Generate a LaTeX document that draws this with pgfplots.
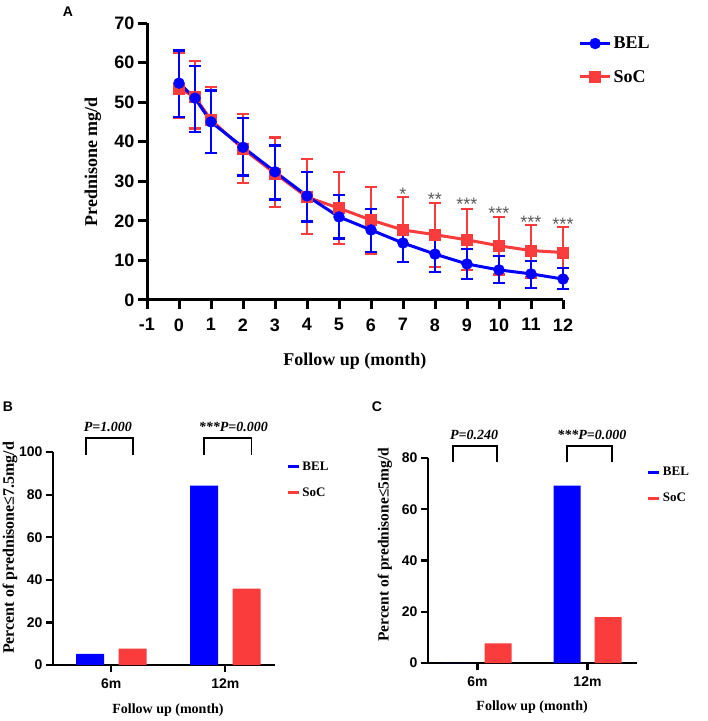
\documentclass[border=0pt]{standalone}
\usepackage{pgfplots}
\usepackage{pgfplotstable}
\pgfplotsset{compat=1.18}
\usepackage{fontspec}
\setmainfont{Liberation Serif}
\setsansfont{Liberation Sans}

\definecolor{belblue}{RGB}{0,0,255}
\definecolor{socred}{RGB}{250,60,60}
\definecolor{stargray}{RGB}{90,90,90}

% Prednisone dose (mg/d) over follow-up: mean, upper and lower error
\pgfplotstableread{
x    y     ep   em
0    54.8  8.3  8.6
0.5  51.0  8.1  8.6
1    45.0  8.0  7.9
2    38.6  7.4  7.2
3    32.4  6.7  7.0
4    26.3  6.1  6.5
5    21.0  5.5  5.4
6    17.7  5.3  5.6
7    14.4  4.5  4.8
8    11.6  4.3  4.5
9    9.1   3.8  3.8
10   7.6   3.5  3.3
11   6.6   3.2  3.6
12   5.3   2.8  2.5
}\belA
\pgfplotstableread{
x    y     ep   em
0    53.5  9.1  7.5
0.5  51.3  9.1  7.9
1    45.5  8.3  8.3
2    38.2  8.8  8.6
3    32.0  9.1  8.5
4    26.0  9.6  9.3
5    23.2  9.1  9.1
6    20.2  8.3  8.6
7    17.7  8.3  8.1
8    16.5  8.0  8.1
9    15.2  7.8  7.6
10   13.7  7.3  7.3
11   12.5  6.4  6.8
12   12.0  6.5  6.5
}\socA

\pgfplotsset{
  prism/.style={
    scale only axis, anchor=south west, clip=false,
    axis x line*=bottom, axis y line*=left,
    tick align=outside,
    /pgf/number format/assume math mode=true,
  },
  barpanel/.style={
    prism,
    xtick={0,1}, xticklabels={6m,12m},
    axis line style={line width=2.2pt,-},
    every tick/.style={black,line width=2.2pt},
    major tick length=7pt,
    tick label style={font=\sffamily\bfseries\fontsize{14}{14}\selectfont},
    xticklabel style={yshift=-3pt},
    xlabel={Follow up (month)},
    legend style={draw=none, fill=none, anchor=north west,
      font=\bfseries\fontsize{13}{13}\selectfont, row sep=12pt,
      /tikz/every even column/.append style={column sep=8pt}},
    legend cell align=left,
    legend image code/.code={\draw[line width=3.5pt,#1] (0pt,0pt) -- (11pt,0pt);},
  },
}

\begin{document}
\begin{tikzpicture}
\useasboundingbox (0pt,0pt) rectangle (708pt,721pt);

% ---------------- Panel A ----------------
\node[font=\sffamily\bfseries\fontsize{14}{14}\selectfont] at (68pt,709pt) {A};
\begin{axis}[prism,
  at={(147pt,421pt)}, width=416pt, height=277pt,
  xmin=-1, xmax=12, ymin=0, ymax=70,
  xtick={-1,0,...,12}, ytick={0,10,...,70},
  axis line style={line width=3pt,-},
  every tick/.style={black,line width=3pt},
  major tick length=9pt,
  tick label style={font=\sffamily\bfseries\fontsize{18}{18}\selectfont},
  xticklabel style={yshift=-6pt},
  xlabel={Follow up (month)}, ylabel={Prednisone mg/d},
  xlabel style={at={(axis description cs:0.5,-0.222)}, anchor=center,
    font=\bfseries\fontsize{18}{18}\selectfont},
  ylabel style={at={(axis description cs:-0.13,0.498)}, anchor=center, rotate=0,
    font=\bfseries\fontsize{18}{18}\selectfont},
  legend style={draw=none, fill=none, at={(1.03,0.965)}, anchor=north west,
    font=\bfseries\fontsize{18}{18}\selectfont, row sep=16pt,
    /tikz/every even column/.append style={column sep=10pt}},
  legend cell align=left,
  legend image code/.code={\draw[mark repeat=2,mark phase=2,#1]
     plot coordinates {(0pt,0pt) (15pt,0pt) (30pt,0pt)};},
]
\addlegendimage{belblue, line width=3pt, mark=*, mark size=5.5pt, mark options={line width=0.4pt}}
\addlegendentry{BEL}
\addlegendimage{socred, line width=3pt, mark=square*, mark size=5.5pt, mark options={line width=0.4pt}}
\addlegendentry{SoC}

\addplot[socred, line width=3pt, mark=square*, mark size=5.5pt,
  mark options={line width=0.4pt},
  error bars/.cd, y dir=both, y explicit,
  error bar style={line width=2.5pt},
  error mark options={rotate=90, mark size=6pt, line width=2.5pt}]
  table[x=x, y=y, y error plus=ep, y error minus=em] {\socA};
\addplot[belblue, line width=3pt, mark=*, mark size=5.5pt,
  mark options={line width=0.4pt},
  error bars/.cd, y dir=both, y explicit,
  error bar style={line width=2.5pt},
  error mark options={rotate=90, mark size=6pt, line width=2.5pt}]
  table[x=x, y=y, y error plus=ep, y error minus=em] {\belA};

% significance stars
\begin{scope}[every node/.style={stargray, font=\sffamily\fontsize{18}{18}\selectfont, inner sep=0pt}]
\node at (axis cs:7,26.8) {*};
\node at (axis cs:8,25.5) {**};
\node at (axis cs:9,24.1) {***};
\node at (axis cs:10,21.9) {***};
\node at (axis cs:11,19.6) {***};
\node at (axis cs:12,19.2) {***};
\end{scope}
\end{axis}

% ---------------- Panel B ----------------
\node[font=\sffamily\bfseries\fontsize{14}{14}\selectfont] at (8pt,314pt) {B};
\begin{axis}[barpanel,
  at={(53pt,56pt)}, width=222pt, height=213pt,
  xmin=-0.511, xmax=1.436, ymin=0, ymax=100,
  ytick={0,20,...,100},
  ylabel={Percent of prednisone≤7.5mg/d},
  xlabel style={at={(axis description cs:0.518,-0.211)}, anchor=center,
    font=\bfseries\fontsize{14}{14}\selectfont},
  ylabel style={at={(axis description cs:-0.194,0.55)}, anchor=center, rotate=0,
    font=\bfseries\fontsize{16}{16}\selectfont},
  legend style={at={(1.035,0.975)}},
]
\addlegendimage{belblue}\addlegendentry{BEL}
\addlegendimage{socred}\addlegendentry{SoC}
\addplot[ybar, bar width=28pt, bar shift=-21.25pt, fill=belblue, draw=none, forget plot]
  coordinates {(0,5.26) (1,84.2)};
\addplot[ybar, bar width=28pt, bar shift=21.25pt, fill=socred, draw=none, forget plot]
  coordinates {(0,7.69) (1,35.9)};
\draw[line width=1.8pt] (axis cs:-0.22,98.6) |- (axis cs:0.19,106.6) -- (axis cs:0.19,98.6);
\draw[line width=1.8pt] (axis cs:0.81,98.6) |- (axis cs:1.23,106.6) -- (axis cs:1.23,98.6);
\node[font=\bfseries\itshape\fontsize{14}{14}\selectfont] at (axis cs:-0.03,111.7) {P=1.000};
\node[font=\bfseries\itshape\fontsize{14}{14}\selectfont] at (axis cs:1.07,111.7) {***P=0.000};
\end{axis}

% ---------------- Panel C ----------------
\node[font=\sffamily\bfseries\fontsize{14}{14}\selectfont] at (377pt,314pt) {C};
\begin{axis}[barpanel,
  at={(428pt,58pt)}, width=209pt, height=205pt,
  xmin=-0.45, xmax=1.45, ymin=0, ymax=80,
  ytick={0,20,...,80},
  ylabel={Percent of prednisone≤5mg/d},
  xlabel style={at={(axis description cs:0.498,-0.215)}, anchor=center,
    font=\bfseries\fontsize{14}{14}\selectfont},
  ylabel style={at={(axis description cs:-0.206,0.576)}, anchor=center, rotate=0,
    font=\bfseries\fontsize{15.5}{15.5}\selectfont},
  legend style={at={(1.03,0.975)}},
]
\addlegendimage{belblue}\addlegendentry{BEL}
\addlegendimage{socred}\addlegendentry{SoC}
\addplot[ybar, bar width=27pt, bar shift=-20.5pt, fill=belblue, draw=none, forget plot]
  coordinates {(0,0) (1,69.2)};
\addplot[ybar, bar width=27pt, bar shift=20.5pt, fill=socred, draw=none, forget plot]
  coordinates {(0,7.69) (1,17.9)};
\draw[line width=1.8pt] (axis cs:-0.223,78.4) |- (axis cs:0.177,84.7) -- (axis cs:0.177,78.4);
\draw[line width=1.8pt] (axis cs:0.814,78.4) |- (axis cs:1.223,84.7) -- (axis cs:1.223,78.4);
\node[font=\bfseries\itshape\fontsize{14}{14}\selectfont] at (axis cs:-0.03,89) {P=0.240};
\node[font=\bfseries\itshape\fontsize{14}{14}\selectfont] at (axis cs:1.04,89) {***P=0.000};
\end{axis}
\end{tikzpicture}
\end{document}
